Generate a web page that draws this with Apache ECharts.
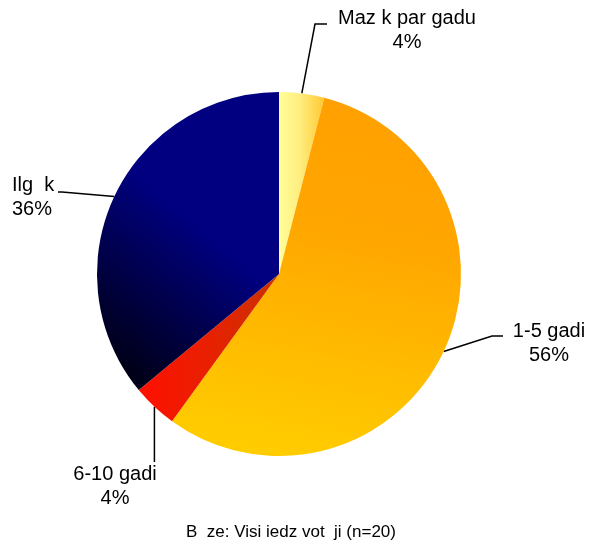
<!DOCTYPE html>
<html>
<head>
<meta charset="utf-8">
<script src="https://cdn.jsdelivr.net/npm/echarts@6/dist/echarts.min.js"></script>
<style>
  html, body { margin: 0; padding: 0; background: #fff; }
  #chart { width: 589px; height: 542px; }
</style>
</head>
<body>
<div id="chart"></div>
<script>
const categories = ['Maz k par gadu', '1-5 gadi', '6-10 gadi', 'Ilg  k']
const shares = [4, 56, 4, 36]
const footnote = 'B  ze: Visi iedz vot  ji (n=20)'

// slice fills (gradients in slice bounding box)
const fills = [
  { type: 'linear', x: 0, y: 0, x2: 1, y2: 0,
    colorStops: [{ offset: 0, color: '#ffff99' }, { offset: 0.45, color: '#ffee80' }, { offset: 1, color: '#ffc832' }] },
  { type: 'linear', x: 0.7, y: 0, x2: 0.45, y2: 1,
    colorStops: [{ offset: 0, color: '#ffa000' }, { offset: 0.35, color: '#ffa500' }, { offset: 1, color: '#ffcc00' }] },
  { type: 'linear', x: 0, y: 0, x2: 1, y2: 0,
    colorStops: [{ offset: 0, color: '#ff1000' }, { offset: 0.5, color: '#e82000' }, { offset: 1, color: '#c83300' }] },
  { type: 'linear', x: 0, y: 0.85, x2: 0.55, y2: 0.45,
    colorStops: [{ offset: 0, color: '#000018' }, { offset: 1, color: '#000080' }] }
]

// where each label sits and how its leader bends
const labelSpots = [
  { x: 407, y: 30, align: 'center', bend: [315, 24], end: [327, 24] },
  { x: 549, y: 343, align: 'center', bend: [492, 336], end: [503, 336] },
  { x: 115, y: 486, align: 'center', bend: null, end: null },
  { x: 12, y: 197, align: 'left', bend: [62, 192], end: [58, 192] }
]

const chart = echarts.init(document.getElementById('chart'))

const option = {
  animation: false,
  title: {
    text: footnote,
    left: 286,
    top: 519,
    textAlign: 'center',
    textStyle: {
      fontFamily: 'Arial, "Liberation Sans", sans-serif',
      fontSize: 17,
      fontWeight: 'normal',
      color: '#000'
    }
  },
  series: [
    {
      type: 'pie',
      center: [279, 274],
      radius: 182,
      startAngle: 90,
      clockwise: true,
      avoidLabelOverlap: false,
      emphasis: { disabled: true },
      itemStyle: { borderWidth: 0 },
      label: {
        show: true,
        position: 'outside',
        formatter: p => p.name + '\n' + Math.round(p.percent) + '%',
        fontFamily: 'Arial, "Liberation Sans", sans-serif',
        fontSize: 20,
        lineHeight: 24,
        color: '#000'
      },
      labelLine: {
        show: true,
        lineStyle: { color: '#000', width: 1.5 }
      },
      labelLayout: function (params) {
        const s = labelSpots[params.dataIndex]
        const start = params.labelLinePoints ? params.labelLinePoints[0] : [0, 0]
        let pts
        if (s.bend) {
          pts = [start, s.bend, s.end]
        } else {
          pts = [start, [start[0], 435], [start[0], 462]]
        }
        return {
          x: s.x,
          y: s.y,
          align: s.align,
          verticalAlign: 'middle',
          labelLinePoints: pts
        }
      },
      data: categories.map((name, i) => ({
        name: name,
        value: shares[i],
        itemStyle: { color: fills[i] }
      }))
    }
  ]
}

chart.setOption(option)
</script>
</body>
</html>
